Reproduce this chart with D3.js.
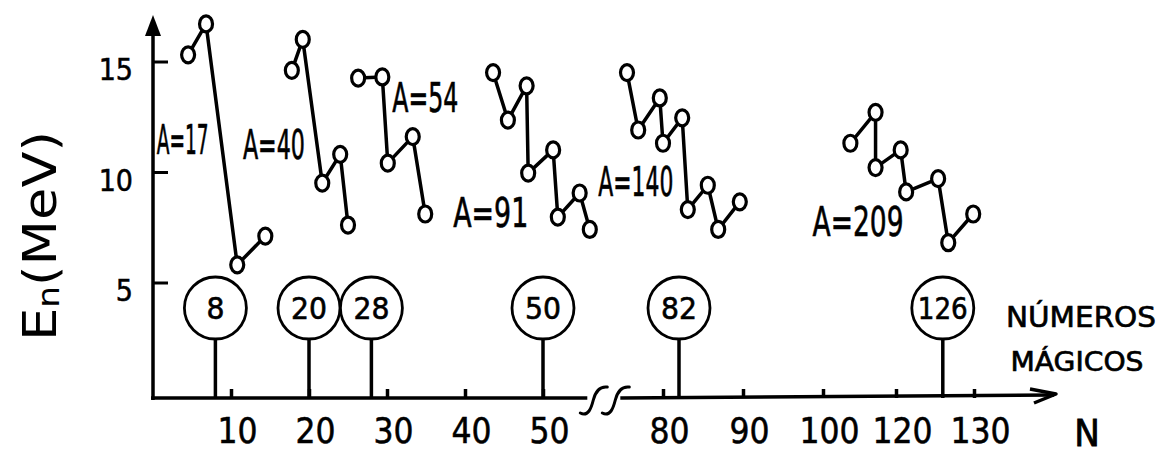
<!DOCTYPE html>
<html>
<head>
<meta charset="utf-8">
<script src="https://cdn.jsdelivr.net/npm/d3@7"></script>
<style>
  html, body { margin: 0; padding: 0; background: #fff; }
  svg { display: block; }
  text { font-family: "DejaVu Sans Condensed", "DejaVu Sans", sans-serif; fill: #000; }
</style>
</head>
<body>
<svg id="chart" width="1160" height="455"></svg>
<script>
// Axis ticks
const xTickValues = [10, 20, 30, 40, 50, 80, 90, 100, 120, 130];
const yTickValues = [5, 10, 15];

// Magic numbers of neutrons
const magicNumbers = [8, 20, 28, 50, 82, 126];

// Neutron separation energy (MeV) along each isobar chain, by neutron number N
const a17N = [4.5, 6.8, 10.8, 14.4];
const a17E = [15.3, 16.7, 5.8, 7.1];

const a40N = [17.8, 19.2, 21.7, 24.0, 25.0];
const a40E = [14.6, 16.0, 9.5, 10.8, 7.6];

const a54N = [26.3, 29.4, 30.1, 33.3, 34.9];
const a54E = [14.25, 14.3, 10.4, 11.6, 8.1];

const a91N = [43.6, 45.5, 47.9, 48.1, 51.3, 51.9, 54.7, 56.0];
const a91E = [14.5, 12.35, 13.9, 9.95, 11.0, 7.96, 9.05, 7.4];

const a140N = [75.5, 76.9, 79.6, 80.0, 82.4, 83.1, 85.6, 86.9, 89.6];
const a140E = [14.5, 11.9, 13.35, 11.3, 12.45, 8.3, 9.4, 7.4, 8.65];

const a209N = [107.5, 114.4, 114.4, 120.6, 121.3, 125.4, 126.7, 129.9];
const a209E = [11.3, 12.7, 10.2, 11.0, 9.1, 9.7, 6.8, 8.1];

const chainNames = ["A=17", "A=40", "A=54", "A=91", "A=140", "A=209"];
const chainN = [a17N, a40N, a54N, a91N, a140N, a209N];
const chainE = [a17E, a40E, a54E, a91E, a140E, a209E];

// ---------------------------------------------------------------------------
const svg = d3.select("#chart");
const ink = "#000";

// Broken N axis: linear up to the break, compressed 100-120 stretch
const x = d3.scaleLinear()
  .domain([0, 57, 75, 100, 120, 140])
  .range([153, 597.6, 623, 823, 896, 1052]);
const y = d3.scaleLinear().domain([0, 15]).range([393, 61.5]);

const axisY = 398;

// Text squeezed horizontally to a given width (centred on cx)
function narrowText(parent, str, cx, baseline, size, width) {
  const g = parent.append("g");
  const t = g.append("text")
    .attr("text-anchor", "middle").attr("font-size", size)
    .attr("stroke", ink).attr("stroke-width", 0.6)
    .text(str);
  const natural = t.node().getComputedTextLength();
  g.attr("transform", `translate(${cx},${baseline}) scale(${width / natural},1)`);
  return t;
}

// Y axis ticks and labels
const yAxis = d3.axisLeft(y).tickValues(yTickValues).tickSize(-15).tickPadding(20);
const gy = svg.append("g").attr("transform", `translate(${x(0)},0)`).call(yAxis);
gy.select(".domain").remove();
gy.selectAll(".tick line").attr("stroke", ink).attr("stroke-width", 3);
gy.selectAll(".tick text")
  .attr("font-size", 30).attr("dy", "0.6em").attr("fill", ink)
  .attr("stroke", ink).attr("stroke-width", 0.5)
  .style("font-family", '"DejaVu Sans Condensed", sans-serif');

// X axis ticks and labels
const xAxis = d3.axisBottom(x).tickValues(xTickValues).tickSize(-9).tickPadding(20);
const gx = svg.append("g").attr("transform", `translate(0,${axisY})`).call(xAxis);
gx.select(".domain").remove();
gx.selectAll(".tick line").attr("stroke", ink).attr("stroke-width", 3.5);
gx.selectAll(".tick text")
  .attr("font-size", 35).attr("x", 6).attr("fill", ink)
  .attr("stroke", ink).attr("stroke-width", 0.5)
  .style("font-family", '"DejaVu Sans Condensed", sans-serif');

// Y axis line with arrow head
svg.append("line")
  .attr("x1", x(0)).attr("x2", x(0)).attr("y1", axisY + 2).attr("y2", 30)
  .attr("stroke", ink).attr("stroke-width", 3.5);
svg.append("path")
  .attr("d", `M${x(0)},15 L${x(0) - 8},36 L${x(0) + 8},36 Z`)
  .attr("fill", ink);

// X axis line, interrupted by the break
const breakX = (x(57) + x(75)) / 2;
svg.append("line")
  .attr("x1", x(0) - 2).attr("x2", breakX - 23).attr("y1", axisY).attr("y2", axisY)
  .attr("stroke", ink).attr("stroke-width", 3.5);
svg.append("line")
  .attr("x1", breakX + 10).attr("x2", 1054).attr("y1", axisY).attr("y2", axisY - 3)
  .attr("stroke", ink).attr("stroke-width", 3.5);
// arrow barbs
svg.append("path")
  .attr("d", `M1030,389 L1056,394 L1034,403`)
  .attr("fill", "none").attr("stroke", ink).attr("stroke-width", 3.5)
  .attr("stroke-linejoin", "round");

// Break marks
[0, 22].forEach(dx => {
  const bx = breakX - 30 + dx;
  svg.append("path")
    .attr("d", `M${bx},${axisY + 15} C${bx + 8},${axisY + 19} ${bx + 11},${axisY + 10} ${bx + 13},${axisY + 2}`
      + ` S${bx + 19},${axisY - 12} ${bx + 27},${axisY - 11}`)
    .attr("fill", "none").attr("stroke", ink).attr("stroke-width", 3)
    .attr("stroke-linecap", "round");
});

// Axis titles
svg.append("text")
  .attr("transform", "translate(40,236) rotate(-90)")
  .attr("text-anchor", "middle").attr("dominant-baseline", "central")
  .attr("font-size", 46)
  .attr("textLength", 210).attr("lengthAdjust", "spacingAndGlyphs")
  .call(t => {
    t.append("tspan").text("E");
    t.append("tspan").attr("font-size", 30).attr("dy", 8).text("n");
    t.append("tspan").attr("dy", -8).text("(MeV)");
  });

svg.append("text")
  .attr("x", 1087).attr("y", 446)
  .attr("text-anchor", "middle").attr("font-size", 38)
  .attr("stroke", ink).attr("stroke-width", 0.8)
  .text("N");

narrowText(svg, "NÚMEROS", 1081, 327, 28, 150);
narrowText(svg, "MÁGICOS", 1077, 371, 26, 133);

// Magic numbers: circled labels on stems
const circleY = 308, circleR = 31;
const magic = svg.append("g").selectAll("g").data(magicNumbers).join("g")
  .attr("transform", d => `translate(${x(d)},0)`);
magic.append("line")
  .attr("y1", circleY + circleR).attr("y2", axisY)
  .attr("stroke", ink).attr("stroke-width", 3.5);
magic.append("circle")
  .attr("cy", circleY).attr("r", circleR)
  .attr("fill", "#fff").attr("stroke", ink).attr("stroke-width", 2.8);
magic.each(function (d) {
  const s = String(d);
  narrowText(d3.select(this), s, 0, circleY + 11, 31, s.length > 2 ? 50 : s.length * 18);
});

// Isobar chains: zigzag lines through open circles
const line = d3.line().x(d => x(d[0])).y(d => y(d[1]));
chainN.forEach((ns, i) => {
  const pts = ns.map((n, j) => [n, chainE[i][j]]);
  const g = svg.append("g");
  g.append("path")
    .attr("d", line(pts))
    .attr("fill", "none").attr("stroke", ink).attr("stroke-width", 3.5)
    .attr("stroke-linejoin", "round");
  g.selectAll("ellipse").data(pts).join("ellipse")
    .attr("cx", d => x(d[0])).attr("cy", d => y(d[1]))
    .attr("rx", 6.5).attr("ry", 8)
    .attr("fill", "#fff").attr("stroke", ink).attr("stroke-width", 3.2);
});

// Chain labels, anchored in data units (centre N, baseline En, width px)
const labelSpots = [[3.8, 10.8, 52], [15.5, 10.6, 62], [34.9, 12.7, 66], [43.3, 7.5, 75], [76.6, 8.9, 75], [109.6, 7.1, 91]];
chainNames.forEach((name, i) => {
  const [n, e, w] = labelSpots[i];
  narrowText(svg, name, x(n), y(e), 40, w);
});
</script>
</body>
</html>
